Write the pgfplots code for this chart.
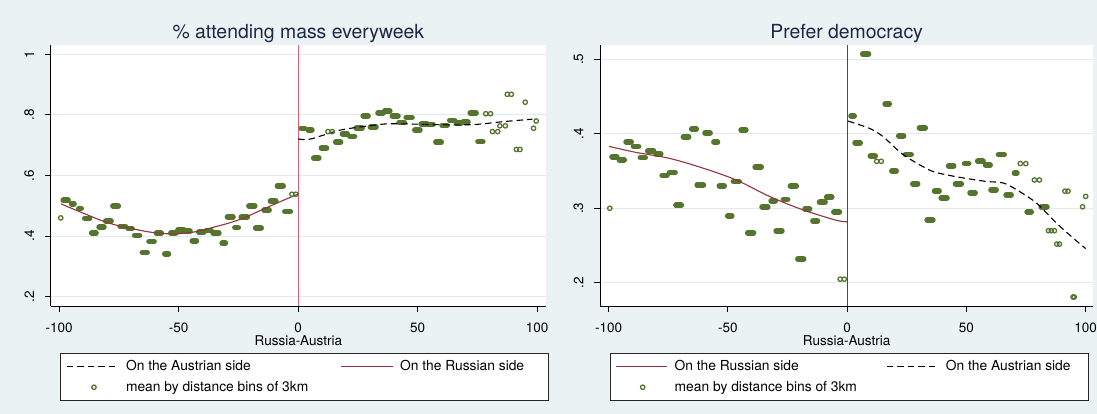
\documentclass[border=0pt]{standalone}
\usepackage{pgfplots}
\pgfplotsset{compat=1.18}
\usepackage{fontspec}
\setmainfont{TeX Gyre Heros}
\definecolor{bg}{RGB}{234,242,243}
\definecolor{grn}{RGB}{85,117,47}
\definecolor{maroon}{RGB}{144,53,59}
\definecolor{gridc}{RGB}{225,234,236}
\definecolor{ttl}{RGB}{30,40,70}
\definecolor{xlineA}{RGB}{220,90,120}
\definecolor{xlineB}{RGB}{196,18,48}
\pgfplotsset{
  stata/.style={
    scale only axis, anchor=south west,
    axis x line*=bottom, axis y line*=left,
    axis line style={-, line width=1bp, black},
    every outer x axis line/.append style={-},
    every outer y axis line/.append style={-},
    axis background/.style={fill=white},
    tick align=outside, major tick length=5.7bp,
    tick style={line width=1bp, black},
    xtick={-100,-50,0,50,100}, xticklabels={-100,-50,0,50,100},
    ticklabel style={font=\fontsize{13.5bp}{15bp}\selectfont},
    xticklabel style={anchor=base, inner sep=0pt},
    xticklabel shift=20.7bp,
    yticklabel style={rotate=90, anchor=south, inner sep=0pt},
    yticklabel shift=10.7bp,
    ymajorgrids, grid style={gridc, line width=1bp},
    xlabel={Russia-Austria},
    xlabel style={font=\fontsize{13.5bp}{15bp}\selectfont, at={(axis description cs:0.5,0)}, anchor=base, yshift=-39bp, inner sep=0pt},
    title style={font=\fontsize{19.4bp}{22bp}\selectfont, text=ttl, at={(axis description cs:0.5,1)}, anchor=base, yshift=0.8bp, inner sep=0pt},
    legend columns=2,
    legend cell align=left,
    legend style={anchor=north west, draw=black!85, line width=0.8bp, fill=white,
      inner ysep=7.3bp, row sep=9bp, column sep=0pt,
      font=\fontsize{13.8bp}{16bp}\selectfont,
      nodes={inner sep=0pt, text height=10bp, text depth=1.5bp}},
  },
  blob/.style={only marks, mark=*, mark size=0.2bp, color=grn,
    error bars/.cd, x dir=both, x explicit, error mark=none,
    error bar style={line width=5.7bp, line cap=round, draw=grn}},
  holl/.style={only marks, mark=o, mark size=2.2bp, color=grn, mark options={line width=1.3bp}},
  lineimg/.style={legend image code/.code={\draw[##1] (0bp,0bp) -- (51.5bp,0bp); \path (58.5bp,0bp);}},
  markimg/.style={legend image code/.code={\draw[grn, line width=1.3bp] (27bp,0bp) circle[radius=2.2bp]; \path (0bp,0bp) (58.5bp,0bp);}},
}
\begin{document}
\begin{tikzpicture}
\fill[bg] (0,0) rectangle (1097bp,414bp);
\useasboundingbox (0,0) rectangle (1097bp,414bp);
% ---------------- Panel 1 ----------------
\begin{axis}[stata,
  at={(50.7bp,108bp)}, width=495.3bp, height=261bp,
  xmin=-103.5, xmax=103.7, ymin=0.169, ymax=1.031,
  ytick={0.2,0.4,0.6,0.8,1}, yticklabels={.2,.4,.6,.8,1},
  title={\% attending mass everyweek},
  legend style={at={(axis description cs:0.0182,-0.1812)}, inner xsep=6.3bp},
]
\addlegendimage{lineimg, black, dash pattern=on 6.5bp off 4bp, line width=1.1bp}
\addlegendentry{\makebox[214.5bp][l]{On the Austrian side}}
\addlegendimage{lineimg, maroon, line width=1.1bp}
\addlegendentry{\makebox[141.8bp][l]{On the Russian side}}
\addlegendimage{markimg}
\addlegendentry{mean by distance bins of 3km}
\addplot[forget plot, blob] coordinates {
(-97.25,.518) +- (1.0,0) (-94.25,.507) +- (0.5,0) (-91.25,.491) +- (0.5,0)
(-88.25,.458) +- (1.0,0) (-85.45,.410) +- (0.9,0) (-82.25,.429) +- (1.0,0)
(-79.35,.449) +- (1.1,0) (-76.35,.499) +- (1.1,0) (-73.35,.432) +- (1.1,0)
(-70.3,.425) +- (0.85,0) (-67.35,.402) +- (1.0,0) (-64.15,.346) +- (1.0,0)
(-61.3,.382) +- (1.05,0) (-58.25,.409) +- (1.0,0) (-55.0,.341) +- (0.75,0)
(-52.25,.410) +- (1.0,0) (-49.05,.421) +- (1.2,0) (-46.1,.416) +- (0.85,0)
(-43.4,.384) +- (0.85,0) (-40.5,.413) +- (1.05,0) (-37.35,.418) +- (1.0,0)
(-34.35,.409) +- (1.2,0) (-31.1,.376) +- (0.65,0) (-28.4,.463) +- (1.15,0)
(-25.75,.428) +- (0.7,0) (-22.5,.462) +- (1.25,0) (-19.35,.499) +- (1.2,0)
(-16.6,.427) +- (1.15,0) (-13.2,.485) +- (1.05,0) (-10.45,.515) +- (1.1,0)
(-7.45,.566) +- (1.2,0) (-4.4,.481) +- (1.15,0)
(2.0,.755) +- (0.75,0) (5.0,.750) +- (0.75,0) (7.6,.657) +- (1.05,0)
(10.8,.690) +- (1.05,0) (16.75,.710) +- (1.0,0) (19.55,.738) +- (1.0,0)
(22.6,.729) +- (0.95,0) (25.55,.756) +- (1.2,0) (28.25,.797) +- (1.0,0)
(31.4,.760) +- (1.15,0) (34.5,.807) +- (1.05,0) (37.3,.813) +- (1.05,0)
(40.6,.796) +- (1.15,0) (43.35,.775) +- (1.1,0) (46.45,.792) +- (1.2,0)
(49.9,.750) +- (1.05,0) (52.75,.769) +- (1.2,0) (55.35,.768) +- (1.1,0)
(58.75,.710) +- (1.1,0) (61.3,.765) +- (1.05,0) (64.45,.782) +- (1.0,0)
(67.25,.774) +- (1.0,0) (70.05,.776) +- (1.0,0) (73.25,.806) +- (1.2,0)
(76.25,.712) +- (1.0,0)
};
\addplot[forget plot, holl] coordinates {
(-99.3,.460) (-2.6,.538) (-1.0,.538)
(12.5,.745) (14.3,.745)
(78.5,.804) (80.5,.804) (81.3,.745) (83.5,.745)
(84.4,.764) (86.7,.764) (87.5,.868) (89.2,.868)
(91.3,.686) (92.8,.686) (95.0,.842) (98.5,.756) (99.6,.780)
};
\addplot[forget plot, xlineA, line width=1.2bp] coordinates {(0,0.169) (0,1.031)};
\addplot[forget plot, maroon, line width=1.1bp, smooth] coordinates {
(-99.2,.506) (-90,.476) (-81.5,.449) (-74.5,.433) (-61.9,.413) (-52.2,.407)
(-43.8,.413) (-35.4,.429) (-24.3,.455) (-10.3,.504) (-0.5,.537)
};
\addplot[forget plot, black, line width=1.1bp, dash pattern=on 6.5bp off 4bp, smooth] coordinates {
(0,.721) (5,.720) (17.7,.750) (31.7,.766) (38.7,.771) (52.7,.769)
(65.3,.767) (75,.769) (86,.778) (98,.786)
};
\end{axis}
% ---------------- Panel 2 ----------------
\begin{axis}[stata,
  at={(600bp,108bp)}, width=493.3bp, height=261bp,
  xmin=-103.6, xmax=103.2, ymin=0.169, ymax=0.519,
  ytick={0.2,0.3,0.4,0.5}, yticklabels={.2,.3,.4,.5},
  title={Prefer democracy},
  legend style={at={(axis description cs:0.0197,-0.1812)}, inner xsep=5bp},
]
\addlegendimage{lineimg, maroon, line width=1.1bp}
\addlegendentry{\makebox[211.5bp][l]{On the Russian side}}
\addlegendimage{lineimg, black, dash pattern=on 6.5bp off 4bp, line width=1.1bp}
\addlegendentry{\makebox[137.5bp][l]{On the Austrian side}}
\addlegendimage{markimg}
\addlegendentry{mean by distance bins of 3km}
\addplot[forget plot, blob] coordinates {
(-97.55,.369) +- (1.0,0) (-94.45,.365) +- (1.0,0) (-91.6,.389) +- (1.05,0)
(-88.5,.383) +- (1.05,0) (-85.65,.368) +- (1.0,0) (-82.35,.377) +- (1.2,0)
(-79.1,.373) +- (0.95,0) (-76.55,.344) +- (1.0,0) (-73.3,.348) +- (1.15,0)
(-70.65,.304) +- (1.1,0) (-67.55,.396) +- (1.1,0) (-64.2,.406) +- (0.95,0)
(-61.55,.331) +- (1.3,0) (-58.5,.401) +- (1.05,0) (-55.1,.389) +- (0.75,0)
(-52.55,.330) +- (1.0,0) (-49.2,.290) +- (0.85,0) (-46.45,.336) +- (1.2,0)
(-43.45,.405) +- (1.0,0) (-40.45,.267) +- (1.2,0) (-37.3,.355) +- (1.25,0)
(-34.45,.302) +- (1.2,0) (-31.0,.310) +- (0.85,0) (-28.55,.270) +- (1.2,0)
(-25.8,.312) +- (0.85,0) (-22.55,.330) +- (1.2,0) (-19.45,.232) +- (1.2,0)
(-16.7,.299) +- (0.95,0) (-13.4,.283) +- (0.95,0) (-10.4,.308) +- (1.15,0)
(-7.5,.315) +- (1.05,0) (-4.4,.295) +- (1.15,0)
(2.3,.424) +- (0.65,0) (4.4,.388) +- (1.05,0) (7.75,.507) +- (1.2,0)
(10.75,.370) +- (1.0,0) (16.8,.440) +- (0.85,0) (19.65,.350) +- (0.9,0)
(22.65,.397) +- (1.0,0) (25.65,.372) +- (1.2,0) (28.55,.333) +- (1.0,0)
(31.55,.408) +- (1.2,0) (34.75,.284) +- (1.2,0) (37.6,.323) +- (0.95,0)
(40.65,.314) +- (1.2,0) (43.6,.357) +- (1.05,0) (46.65,.333) +- (1.2,0)
(50.1,.360) +- (0.85,0) (52.6,.321) +- (1.05,0) (55.85,.363) +- (1.1,0)
(59.0,.358) +- (0.95,0) (61.4,.325) +- (1.05,0) (64.65,.372) +- (1.2,0)
(67.7,.318) +- (1.05,0) (70.65,.347) +- (0.5,0) (76.3,.295) +- (0.85,0)
(82.55,.302) +- (1.2,0)
};
\addplot[forget plot, holl] coordinates {
(-99.5,.300) (-2.9,.205) (-1.2,.205)
(12.4,.363) (14.3,.363) (72.6,.360) (74.9,.360) (78.5,.338) (80.6,.338)
(84.4,.270) (85.6,.270) (86.9,.270) (87.9,.252) (89.0,.252)
(91.3,.323) (92.6,.323) (94.7,.181) (95.2,.181) (98.7,.302) (100,.316)
};
\addplot[forget plot, xlineB, line width=1.2bp] coordinates {(0,0.169) (0,0.519)};
\addplot[forget plot, maroon, line width=1.1bp, smooth] coordinates {
(-99.8,.383) (-88.5,.375) (-74.5,.367) (-60.5,.354) (-46.5,.338)
(-32.6,.316) (-18.6,.298) (-4.6,.284) (0,.282)
};
\addplot[forget plot, black, line width=1.1bp, dash pattern=on 6.5bp off 4bp, smooth] coordinates {
(0.4,.417) (9.5,.407) (15.1,.396) (23.5,.372) (34.7,.351) (41.6,.345)
(50,.340) (58.4,.336) (65.4,.334) (71,.325) (79.4,.307) (87.8,.280)
(94.8,.260) (100,.246)
};
\end{axis}
\end{tikzpicture}
\end{document}
